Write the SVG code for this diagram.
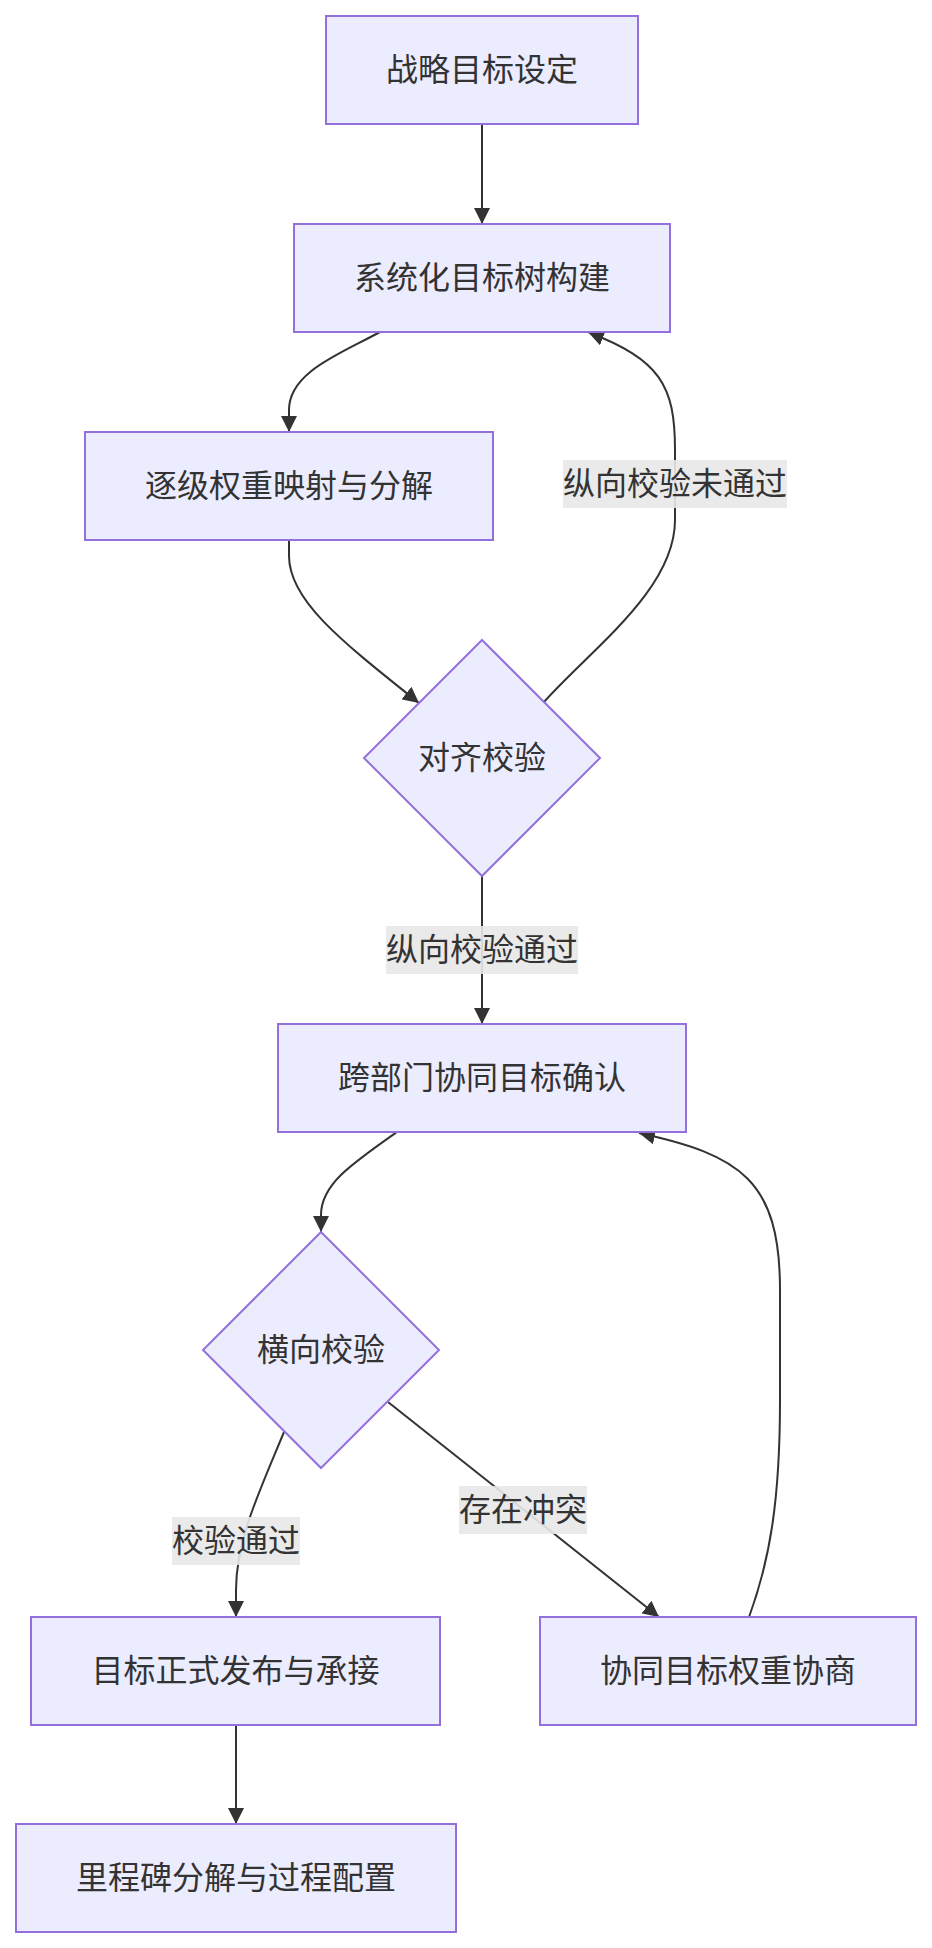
<svg xmlns="http://www.w3.org/2000/svg" width="932" height="1948" viewBox="0 0 932 1948">
<style>
.node rect,.node polygon{fill:#ECECFF;stroke:#9370DB;stroke-width:2}
.node text{fill:#333;font-family:"Liberation Sans","Noto Sans CJK SC",sans-serif;font-size:32px;text-anchor:middle;dominant-baseline:central}
.edge{fill:none;stroke:#333;stroke-width:2}
.lbl rect{fill:#e8e8e8;opacity:0.9}
.lbl text{fill:#333;font-family:"Liberation Sans","Noto Sans CJK SC",sans-serif;font-size:32px;text-anchor:middle;dominant-baseline:central}
</style>
<defs>
<marker id="arr" viewBox="0 0 10 10" refX="10" refY="5" markerWidth="16" markerHeight="16" markerUnits="userSpaceOnUse" orient="auto">
<path d="M0,0 L10,5 L0,10 z" fill="#333"/>
</marker>
</defs>
<rect width="932" height="1948" fill="#fff"/>
<g id="connectors">
<path class="edge" d="M482,124 L482,224" marker-end="url(#arr)"/>
<path class="edge" d="M380,332 C340,354 289,372 289,410 L289,432" marker-end="url(#arr)"/>
<path class="edge" d="M289,541 L289,556 C289,600 340,640 419,703" marker-end="url(#arr)"/>
<path class="edge" d="M544,702 C590,650 675,590 675,520 L675,450 C675,385 660,360 588,332" marker-end="url(#arr)"/>
<path class="edge" d="M482,876 L482,1024" marker-end="url(#arr)"/>
<path class="edge" d="M397,1132 C350,1165 321,1185 321,1215 L321,1232" marker-end="url(#arr)"/>
<path class="edge" d="M284,1432 C260,1490 236,1540 236,1590 L236,1617" marker-end="url(#arr)"/>
<path class="edge" d="M388,1402 L659,1617" marker-end="url(#arr)"/>
<path class="edge" d="M749,1617 C770,1560 780,1500 780,1400 L780,1290 C780,1180 740,1155 639,1133" marker-end="url(#arr)"/>
<path class="edge" d="M236,1725 L236,1824" marker-end="url(#arr)"/>
</g>
<g id="edge-labels">
<g class="lbl" id="lbl-fail"><rect x="563" y="460" width="224" height="48"/><text x="675" y="484">纵向校验未通过</text></g>
<g class="lbl" id="lbl-pass"><rect x="386" y="926" width="192" height="48"/><text x="482" y="950">纵向校验通过</text></g>
<g class="lbl" id="lbl-hpass"><rect x="172" y="1517" width="128" height="48"/><text x="236" y="1541">校验通过</text></g>
<g class="lbl" id="lbl-conflict"><rect x="459" y="1486" width="128" height="48"/><text x="523" y="1510">存在冲突</text></g>
</g>
<g class="node" id="n1"><rect x="326" y="16" width="312" height="108"/><text x="482" y="70">战略目标设定</text></g>
<g class="node" id="n2"><rect x="294" y="224" width="376" height="108"/><text x="482" y="278">系统化目标树构建</text></g>
<g class="node" id="n3"><rect x="85" y="432" width="408" height="108"/><text x="289" y="486">逐级权重映射与分解</text></g>
<g class="node" id="d1"><polygon points="482,640 600,758 482,876 364,758"/><text x="482" y="758">对齐校验</text></g>
<g class="node" id="n4"><rect x="278" y="1024" width="408" height="108"/><text x="482" y="1078">跨部门协同目标确认</text></g>
<g class="node" id="d2"><polygon points="321,1232 439,1350 321,1468 203,1350"/><text x="321" y="1350">横向校验</text></g>
<g class="node" id="n5"><rect x="31" y="1617" width="409" height="108"/><text x="235.5" y="1671">目标正式发布与承接</text></g>
<g class="node" id="n6"><rect x="540" y="1617" width="376" height="108"/><text x="728" y="1671">协同目标权重协商</text></g>
<g class="node" id="n7"><rect x="16" y="1824" width="440" height="108"/><text x="236" y="1878">里程碑分解与过程配置</text></g>
</svg>
